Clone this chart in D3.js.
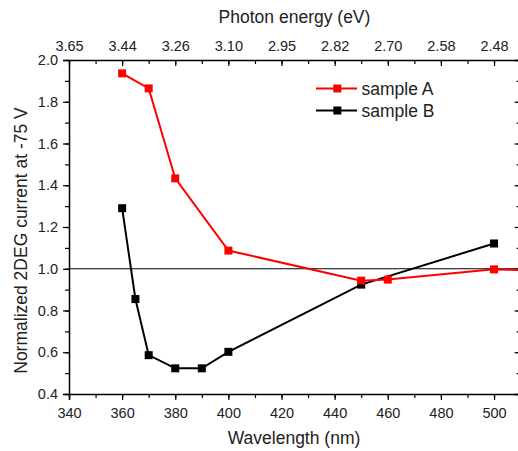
<!DOCTYPE html>
<html><head><meta charset="utf-8">
<script src="https://cdn.jsdelivr.net/npm/d3@7/dist/d3.min.js"></script>
<style>body{margin:0;background:#fff;}svg{display:block;font-family:"Liberation Sans",Arial,sans-serif;}</style>
</head><body>
<script>
const wavelengthsA = [360, 370, 380, 400, 450, 460, 500, 520];
const valuesA = [1.936, 1.864, 1.433, 1.087, 0.943, 0.948, 0.997, 0.99];
const wavelengthsB = [360, 365, 370, 380, 390, 400, 450, 500];
const valuesB = [1.29, 0.855, 0.586, 0.523, 0.523, 0.602, 0.924, 1.121];
const seriesNames = ["sample A", "sample B"];
const xTicks = [340, 360, 380, 400, 420, 440, 460, 480, 500];
const topTickLabels = ["3.65", "3.44", "3.26", "3.10", "2.95", "2.82", "2.70", "2.58", "2.48"];
const yTicks = [0.4, 0.6, 0.8, 1.0, 1.2, 1.4, 1.6, 1.8, 2.0];
const refLevel = 1.0;

const W = 518, H = 451;
const L = 69, R = 520.6, T = 60, B = 394;
const FONT = '"Liberation Sans",Arial,sans-serif';
const svg = d3.select("body").append("svg").attr("width", W).attr("height", H);
const x = d3.scaleLinear().domain([340, 510]).range([L, R]);
const y = d3.scaleLinear().domain([0.4, 2.0]).range([B, T]);

const minorX = d3.range(340, 511, 10);
const minorY = d3.range(0.4, 2.001, 0.1).map(v => +v.toFixed(2));

svg.append("defs").append("clipPath").attr("id", "clip")
  .append("rect").attr("x", L).attr("y", T - 5).attr("width", R - L).attr("height", B - T + 10);

// bottom axis
svg.append("g").attr("transform", `translate(0,${B})`)
  .call(d3.axisBottom(x).tickValues(xTicks).tickSize(6).tickPadding(7.7).tickFormat(d3.format("d")));
svg.append("g").attr("transform", `translate(0,${B})`)
  .call(d3.axisBottom(x).tickValues(minorX).tickSize(4).tickFormat("")).select(".domain").remove();
// top axis (energy labels)
svg.append("g").attr("transform", `translate(0,${T})`)
  .call(d3.axisTop(x).tickValues(xTicks).tickSize(0).tickPadding(9.3).tickFormat((d, i) => topTickLabels[i]));
svg.append("g").attr("transform", `translate(0,${T})`)
  .call(d3.axisBottom(x).tickValues(xTicks).tickSize(6).tickFormat("")).select(".domain").remove();
svg.append("g").attr("transform", `translate(0,${T})`)
  .call(d3.axisBottom(x).tickValues(minorX).tickSize(4).tickFormat("")).select(".domain").remove();
// left axis
svg.append("g").attr("transform", `translate(${L},0)`)
  .call(d3.axisLeft(y).tickValues(yTicks).tickSize(6).tickPadding(5).tickFormat(d3.format(".1f")));
svg.append("g").attr("transform", `translate(${L},0)`)
  .call(d3.axisLeft(y).tickValues(minorY).tickSize(4).tickFormat("")).select(".domain").remove();
// right axis
svg.append("g").attr("transform", `translate(${R},0)`)
  .call(d3.axisLeft(y).tickValues(yTicks).tickSize(6).tickFormat(""));
svg.append("g").attr("transform", `translate(${R},0)`)
  .call(d3.axisLeft(y).tickValues(minorY).tickSize(4).tickFormat("")).select(".domain").remove();

svg.selectAll(".domain").attr("stroke", "#000").attr("stroke-width", 1.5);
svg.selectAll(".tick line").attr("stroke", "#000").attr("stroke-width", 1.2);
svg.selectAll(".tick text").attr("font-size", 14.5).attr("fill", "#222").attr("font-family", FONT);

svg.append("line").attr("x1", L).attr("x2", W).attr("y1", y(refLevel)).attr("y2", y(refLevel))
  .attr("stroke", "#000").attr("stroke-width", 1);

const plot = svg.append("g").attr("clip-path", "url(#clip)");
const line = d3.line().x(d => x(d[0])).y(d => y(d[1]));
const dataA = wavelengthsA.map((w, i) => [w, valuesA[i]]);
const dataB = wavelengthsB.map((w, i) => [w, valuesB[i]]);
function drawSeries(data, color) {
  plot.append("path").datum(data).attr("d", line).attr("fill", "none")
    .attr("stroke", color).attr("stroke-width", 2);
  plot.selectAll(null).data(data).enter().append("rect")
    .attr("x", d => x(d[0]) - 4).attr("y", d => y(d[1]) - 4)
    .attr("width", 8).attr("height", 8).attr("fill", color);
}
drawSeries(dataB, "#000");
drawSeries(dataA, "#ff0000");

const legend = [[seriesNames[0], "#ff0000", 88.5], [seriesNames[1], "#000", 110.5]];
legend.forEach(([name, c, ly]) => {
  svg.append("line").attr("x1", 316).attr("x2", 357).attr("y1", ly).attr("y2", ly)
    .attr("stroke", c).attr("stroke-width", 2);
  svg.append("rect").attr("x", 333.3).attr("y", ly - 4).attr("width", 8).attr("height", 8).attr("fill", c);
  svg.append("text").attr("x", 361.5).attr("y", ly + 6.3).attr("font-size", 17.5).attr("fill", "#222")
    .attr("font-family", FONT).text(name);
});

svg.append("text").attr("x", 294.5).attr("y", 22.5).attr("text-anchor", "middle")
  .attr("font-size", 17.5).attr("fill", "#222").text("Photon energy (eV)");
svg.append("text").attr("x", 294).attr("y", 444).attr("text-anchor", "middle")
  .attr("font-size", 17.5).attr("fill", "#222").text("Wavelength (nm)");
svg.append("text").attr("transform", `translate(27,240.5) rotate(-90)`).attr("text-anchor", "middle")
  .attr("font-size", 17.5).attr("fill", "#222").text("Normalized 2DEG current at -75 V");
</script>
</body></html>
